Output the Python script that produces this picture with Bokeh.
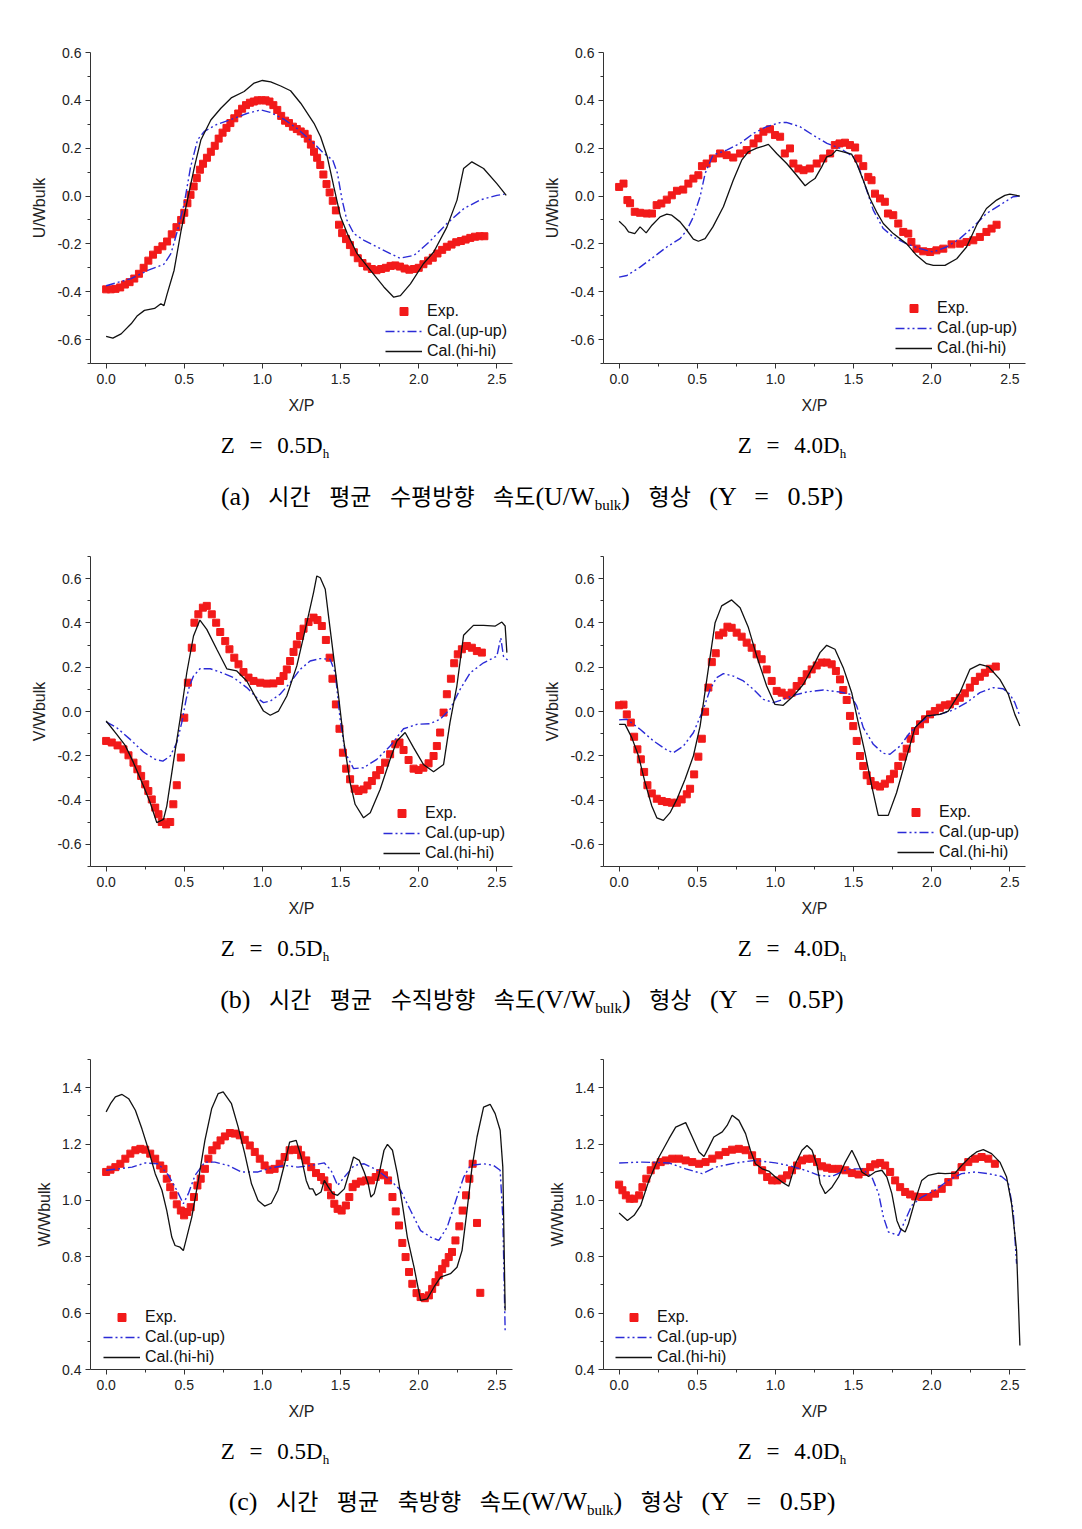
from bokeh.plotting import figure
from bokeh.models import Range1d, FixedTicker, PrintfTickFormatter, Div
from bokeh.layouts import column, row
from bokeh.embed import file_html
from bokeh.resources import INLINE

# ---------------- axis ticks ----------------
x_ticks = [0.0, 0.5, 1.0, 1.5, 2.0, 2.5]
x_minor = [0.25, 0.75, 1.25, 1.75, 2.25]
uv_ticks = [-0.6, -0.4, -0.2, 0.0, 0.2, 0.4, 0.6]
uv_minor = [-0.7, -0.5, -0.3, -0.1, 0.1, 0.3, 0.5, 0.7]
w_ticks = [0.4, 0.6, 0.8, 1.0, 1.2, 1.4]
w_minor = [0.5, 0.7, 0.9, 1.1, 1.3, 1.5]

# ---------------- (a) left : U/Wbulk, Z = 0.5Dh ----------------
a1_exp_x = [0.00, 0.03, 0.06, 0.09, 0.12, 0.15, 0.18, 0.21, 0.24, 0.27, 0.30, 0.33, 0.36, 0.39, 0.42, 0.45,
            0.48, 0.50, 0.52, 0.54, 0.56, 0.58, 0.60, 0.62, 0.645, 0.67, 0.695, 0.72, 0.745, 0.77, 0.795, 0.82,
            0.845, 0.87, 0.895, 0.92, 0.945, 0.97, 0.995, 1.02, 1.045, 1.07, 1.095, 1.12, 1.145, 1.17, 1.195,
            1.22, 1.245, 1.27, 1.29, 1.31, 1.33, 1.35, 1.37, 1.39, 1.41, 1.43, 1.45, 1.47, 1.49, 1.51, 1.535,
            1.56, 1.585, 1.61, 1.64, 1.67, 1.70, 1.73, 1.76, 1.79, 1.82, 1.85, 1.88, 1.91, 1.94, 1.97, 2.00,
            2.03, 2.06, 2.09, 2.12, 2.15, 2.18, 2.21, 2.24, 2.27, 2.30, 2.33, 2.36, 2.39, 2.42]
a1_exp_y = [-0.390, -0.390, -0.388, -0.382, -0.370, -0.360, -0.345, -0.325, -0.300, -0.270, -0.245, -0.225,
            -0.210, -0.190, -0.160, -0.130, -0.100, -0.070, -0.030, 0.005, 0.040, 0.075, 0.110, 0.135, 0.160,
            0.185, 0.210, 0.240, 0.265, 0.285, 0.305, 0.325, 0.345, 0.365, 0.380, 0.390, 0.395, 0.400, 0.400,
            0.400, 0.395, 0.380, 0.360, 0.335, 0.315, 0.305, 0.290, 0.280, 0.270, 0.260, 0.240, 0.215, 0.185,
            0.160, 0.130, 0.090, 0.050, 0.015, -0.020, -0.060, -0.120, -0.155, -0.180, -0.205, -0.235, -0.260,
            -0.280, -0.295, -0.305, -0.310, -0.305, -0.300, -0.292, -0.290, -0.295, -0.303, -0.308, -0.305,
            -0.300, -0.285, -0.270, -0.258, -0.240, -0.225, -0.212, -0.203, -0.193, -0.188, -0.182, -0.175,
            -0.170, -0.168, -0.168]
a1_up_x = [0.0, 0.16, 0.27, 0.37, 0.415, 0.457, 0.5, 0.54, 0.585, 0.628, 0.71, 0.8, 0.9, 0.99, 1.05, 1.14,
           1.22, 1.33, 1.39, 1.45, 1.48, 1.51, 1.54, 1.585, 1.65, 1.755, 1.88, 1.97, 2.07, 2.18, 2.29, 2.39,
           2.5, 2.55]
a1_up_y = [-0.375, -0.345, -0.31, -0.285, -0.24, -0.143, -0.03, 0.12, 0.235, 0.27, 0.3, 0.32, 0.345, 0.36,
           0.35, 0.32, 0.283, 0.22, 0.18, 0.15, 0.095, -0.017, -0.1, -0.157, -0.185, -0.22, -0.26, -0.248,
           -0.19, -0.115, -0.052, -0.017, 0.003, 0.008]
a1_hi_x = [0.0, 0.043, 0.096, 0.16, 0.2, 0.245, 0.31, 0.35, 0.37, 0.39, 0.435, 0.48, 0.52, 0.565, 0.606,
           0.67, 0.734, 0.8, 0.883, 0.947, 1.0, 1.053, 1.117, 1.18, 1.245, 1.33, 1.372, 1.415, 1.457, 1.5,
           1.543, 1.606, 1.69, 1.777, 1.84, 1.883, 1.947, 2.03, 2.096, 2.18, 2.245, 2.287, 2.34, 2.415, 2.5,
           2.56]
a1_hi_y = [-0.587, -0.594, -0.576, -0.534, -0.5, -0.478, -0.47, -0.45, -0.458, -0.41, -0.31, -0.143, -0.017,
           0.122, 0.234, 0.318, 0.367, 0.41, 0.437, 0.472, 0.483, 0.477, 0.46, 0.44, 0.388, 0.304, 0.248,
           0.164, 0.038, -0.087, -0.157, -0.241, -0.31, -0.38, -0.423, -0.416, -0.367, -0.283, -0.234, -0.13,
           -0.017, 0.115, 0.143, 0.115, 0.052, 0.003]

# ---------------- (a) right : U/Wbulk, Z = 4.0Dh ----------------
a2_exp_x = [0.0, 0.028, 0.053, 0.07, 0.1, 0.134, 0.177, 0.21, 0.24, 0.27, 0.305, 0.337, 0.37, 0.41, 0.443,
            0.475, 0.507, 0.53, 0.56, 0.6, 0.646, 0.688, 0.73, 0.774, 0.816, 0.86, 0.89, 0.923, 0.965, 0.997,
            1.03, 1.06, 1.093, 1.115, 1.147, 1.18, 1.22, 1.264, 1.306, 1.35, 1.38, 1.41, 1.445, 1.477, 1.51,
            1.53, 1.562, 1.594, 1.615, 1.637, 1.669, 1.7, 1.72, 1.754, 1.786, 1.818, 1.85, 1.87, 1.903, 1.946,
            1.99, 2.03, 2.074, 2.127, 2.18, 2.223, 2.266, 2.308, 2.35, 2.383, 2.415]
a2_exp_y = [0.038, 0.052, -0.017, -0.03, -0.066, -0.07, -0.073, -0.073, -0.038, -0.031, -0.015, 0.003, 0.022,
            0.027, 0.052, 0.073, 0.087, 0.125, 0.136, 0.157, 0.178, 0.171, 0.161, 0.178, 0.192, 0.22, 0.241,
            0.269, 0.279, 0.255, 0.248, 0.178, 0.199, 0.136, 0.115, 0.108, 0.115, 0.136, 0.157, 0.178, 0.213,
            0.22, 0.223, 0.213, 0.203, 0.157, 0.125, 0.08, 0.066, 0.01, -0.01, -0.024, -0.073, -0.08, -0.115,
            -0.15, -0.157, -0.192, -0.22, -0.231, -0.234, -0.227, -0.22, -0.202, -0.199, -0.192, -0.185,
            -0.171, -0.15, -0.136, -0.12]
a2_up_x = [0.0, 0.05, 0.134, 0.22, 0.305, 0.39, 0.433, 0.475, 0.518, 0.55, 0.6, 0.688, 0.774, 0.86, 0.944,
           1.03, 1.07, 1.157, 1.24, 1.33, 1.413, 1.5, 1.54, 1.584, 1.626, 1.69, 1.754, 1.84, 1.925, 2.01,
           2.095, 2.18, 2.266, 2.35, 2.436, 2.52, 2.56]
a2_up_y = [-0.339, -0.332, -0.297, -0.255, -0.213, -0.178, -0.143, -0.087, -0.003, 0.094, 0.171, 0.192, 0.22,
           0.262, 0.29, 0.307, 0.308, 0.29, 0.255, 0.22, 0.2, 0.164, 0.108, 0.024, -0.059, -0.136, -0.171,
           -0.2, -0.22, -0.234, -0.213, -0.178, -0.129, -0.073, -0.038, -0.003, 0.0]
a2_hi_x = [0.0, 0.038, 0.06, 0.1, 0.134, 0.173, 0.21, 0.262, 0.305, 0.337, 0.39, 0.433, 0.475, 0.507, 0.55,
           0.6, 0.667, 0.73, 0.784, 0.827, 0.88, 0.923, 0.955, 1.008, 1.072, 1.136, 1.19, 1.22, 1.253, 1.296,
           1.328, 1.36, 1.39, 1.434, 1.487, 1.52, 1.562, 1.605, 1.647, 1.69, 1.754, 1.84, 1.903, 1.967, 2.01,
           2.085, 2.16, 2.223, 2.287, 2.35, 2.415, 2.468, 2.5, 2.564]
a2_hi_y = [-0.105, -0.129, -0.15, -0.157, -0.129, -0.154, -0.122, -0.087, -0.076, -0.08, -0.108, -0.143,
           -0.18, -0.189, -0.178, -0.129, -0.045, 0.066, 0.15, 0.185, 0.2, 0.209, 0.216, 0.178, 0.136, 0.087,
           0.043, 0.059, 0.073, 0.122, 0.164, 0.171, 0.192, 0.185, 0.175, 0.136, 0.066, -0.01, -0.066, -0.115,
           -0.157, -0.2, -0.248, -0.283, -0.29, -0.29, -0.262, -0.213, -0.122, -0.052, -0.017, 0.003, 0.008,
           0.0]

# ---------------- (b) left : V/Wbulk, Z = 0.5Dh ----------------
b1_exp_x = [0.0, 0.036, 0.073, 0.111, 0.143, 0.175, 0.2, 0.224, 0.25, 0.27, 0.292, 0.314, 0.335, 0.356,
            0.384, 0.41, 0.43, 0.452, 0.478, 0.5, 0.523, 0.548, 0.565, 0.59, 0.619, 0.644, 0.676, 0.704, 0.73,
            0.762, 0.789, 0.82, 0.847, 0.879, 0.911, 0.943, 0.986, 1.028, 1.07, 1.113, 1.135, 1.156, 1.177,
            1.199, 1.22, 1.241, 1.263, 1.295, 1.327, 1.352, 1.38, 1.406, 1.43, 1.448, 1.47, 1.493, 1.515,
            1.536, 1.561, 1.59, 1.615, 1.647, 1.672, 1.7, 1.728, 1.753, 1.785, 1.817, 1.85, 1.877, 1.903,
            1.935, 1.967, 1.999, 2.03, 2.063, 2.095, 2.116, 2.137, 2.159, 2.18, 2.206, 2.227, 2.25, 2.276,
            2.308, 2.34, 2.372, 2.404]
b1_exp_y = [-0.133, -0.14, -0.153, -0.171, -0.198, -0.231, -0.261, -0.291, -0.329, -0.359, -0.397, -0.434,
            -0.464, -0.499, -0.51, -0.499, -0.419, -0.333, -0.208, -0.028, 0.13, 0.288, 0.401, 0.439, 0.469,
            0.477, 0.439, 0.401, 0.359, 0.318, 0.281, 0.243, 0.213, 0.178, 0.153, 0.138, 0.13, 0.126, 0.127,
            0.138, 0.16, 0.19, 0.228, 0.269, 0.303, 0.341, 0.374, 0.404, 0.424, 0.413, 0.386, 0.323, 0.243,
            0.148, 0.032, -0.078, -0.186, -0.258, -0.306, -0.349, -0.359, -0.352, -0.334, -0.314, -0.288,
            -0.264, -0.231, -0.193, -0.148, -0.14, -0.174, -0.219, -0.258, -0.264, -0.254, -0.234, -0.201,
            -0.156, -0.095, -0.005, 0.078, 0.148, 0.218, 0.258, 0.281, 0.296, 0.288, 0.273, 0.266]
b1_up_x = [0.0, 0.068, 0.154, 0.239, 0.314, 0.363, 0.41, 0.452, 0.484, 0.512, 0.533, 0.559, 0.6, 0.666, 0.73,
           0.815, 0.9, 0.964, 1.007, 1.05, 1.113, 1.177, 1.241, 1.305, 1.369, 1.433, 1.466, 1.497, 1.53,
           1.583, 1.647, 1.732, 1.817, 1.903, 1.988, 2.073, 2.137, 2.2, 2.265, 2.33, 2.415, 2.5, 2.525, 2.542,
           2.575]
b1_up_y = [-0.047, -0.073, -0.126, -0.183, -0.216, -0.224, -0.201, -0.141, -0.05, 0.055, 0.115, 0.16, 0.193,
           0.193, 0.178, 0.153, 0.108, 0.062, 0.04, 0.047, 0.078, 0.13, 0.19, 0.228, 0.239, 0.236, 0.175,
           -0.035, -0.186, -0.258, -0.254, -0.216, -0.156, -0.078, -0.058, -0.055, -0.035, 0.01, 0.1, 0.175,
           0.22, 0.25, 0.333, 0.25, 0.228]
b1_hi_x = [0.0, 0.068, 0.122, 0.175, 0.239, 0.282, 0.324, 0.367, 0.388, 0.43, 0.473, 0.516, 0.559, 0.6,
           0.644, 0.708, 0.772, 0.836, 0.9, 0.964, 1.007, 1.05, 1.103, 1.156, 1.22, 1.284, 1.327, 1.348,
           1.37, 1.402, 1.423, 1.455, 1.487, 1.519, 1.561, 1.593, 1.647, 1.69, 1.753, 1.817, 1.86, 1.913,
           1.967, 2.03, 2.095, 2.159, 2.2, 2.244, 2.287, 2.35, 2.415, 2.49, 2.532, 2.553, 2.564]
b1_hi_y = [-0.043, -0.103, -0.153, -0.231, -0.336, -0.412, -0.502, -0.487, -0.427, -0.231, -0.035, 0.175,
           0.341, 0.413, 0.371, 0.281, 0.193, 0.183, 0.138, 0.055, 0.002, -0.017, 0.002, 0.07, 0.206, 0.401,
           0.537, 0.612, 0.604, 0.552, 0.431, 0.25, 0.07, -0.126, -0.321, -0.419, -0.48, -0.457, -0.352,
           -0.216, -0.133, -0.095, -0.163, -0.239, -0.272, -0.239, -0.05, 0.115, 0.344, 0.389, 0.389, 0.386,
           0.404, 0.386, 0.266]

# ---------------- (b) right : V/Wbulk, Z = 4.0Dh ----------------
b2_exp_x = [0.0, 0.028, 0.049, 0.075, 0.096, 0.117, 0.139, 0.16, 0.181, 0.209, 0.241, 0.273, 0.305, 0.337,
            0.369, 0.4, 0.433, 0.454, 0.48, 0.507, 0.529, 0.55, 0.571, 0.593, 0.618, 0.639, 0.667, 0.693, 0.72,
            0.752, 0.784, 0.816, 0.848, 0.88, 0.912, 0.944, 0.976, 1.008, 1.04, 1.072, 1.104, 1.136, 1.168,
            1.2, 1.232, 1.264, 1.296, 1.328, 1.36, 1.387, 1.413, 1.434, 1.456, 1.477, 1.498, 1.52, 1.541,
            1.562, 1.584, 1.609, 1.637, 1.669, 1.7, 1.733, 1.758, 1.786, 1.814, 1.84, 1.865, 1.893, 1.925,
            1.957, 1.989, 2.02, 2.052, 2.084, 2.116, 2.148, 2.18, 2.212, 2.244, 2.276, 2.308, 2.34, 2.372, 2.41]
b2_exp_y = [0.028, 0.031, -0.013, -0.05, -0.114, -0.171, -0.216, -0.273, -0.333, -0.37, -0.394, -0.404,
            -0.409, -0.412, -0.412, -0.397, -0.374, -0.349, -0.284, -0.204, -0.123, -0.001, 0.108, 0.223, 0.263,
            0.344, 0.356, 0.383, 0.378, 0.356, 0.338, 0.311, 0.288, 0.258, 0.236, 0.19, 0.138, 0.093, 0.085,
            0.073, 0.085, 0.115, 0.138, 0.168, 0.19, 0.208, 0.221, 0.221, 0.213, 0.183, 0.145, 0.097, 0.052,
            -0.02, -0.066, -0.133, -0.201, -0.246, -0.288, -0.314, -0.333, -0.339, -0.326, -0.306, -0.281,
            -0.246, -0.204, -0.168, -0.123, -0.088, -0.058, -0.035, -0.013, 0.002, 0.017, 0.028, 0.032, 0.047,
            0.062, 0.082, 0.108, 0.138, 0.157, 0.175, 0.193, 0.203]
b2_up_x = [0.0, 0.049, 0.134, 0.22, 0.305, 0.347, 0.411, 0.475, 0.539, 0.582, 0.624, 0.667, 0.731, 0.795,
           0.859, 0.923, 0.987, 1.05, 1.115, 1.2, 1.306, 1.413, 1.477, 1.52, 1.562, 1.626, 1.69, 1.733, 1.797,
           1.86, 1.925, 1.989, 2.052, 2.138, 2.223, 2.308, 2.393, 2.457, 2.5, 2.532, 2.56]
b2_up_y = [-0.038, -0.035, -0.08, -0.133, -0.174, -0.186, -0.156, -0.096, 0.01, 0.1, 0.153, 0.171, 0.16,
           0.138, 0.1, 0.055, 0.04, 0.055, 0.073, 0.088, 0.097, 0.088, 0.078, 0.025, -0.073, -0.148, -0.189,
           -0.193, -0.156, -0.096, -0.05, -0.02, -0.013, 0.007, 0.04, 0.085, 0.108, 0.103, 0.078, 0.04, -0.013]
b2_hi_x = [0.0, 0.038, 0.081, 0.124, 0.166, 0.209, 0.241, 0.283, 0.326, 0.369, 0.422, 0.475, 0.518, 0.561,
           0.614, 0.656, 0.72, 0.774, 0.827, 0.88, 0.944, 0.997, 1.05, 1.115, 1.179, 1.243, 1.285, 1.328,
           1.381, 1.434, 1.488, 1.53, 1.573, 1.616, 1.658, 1.722, 1.775, 1.829, 1.893, 1.967, 2.052, 2.106,
           2.18, 2.244, 2.308, 2.362, 2.436, 2.49, 2.532, 2.564]
b2_hi_y = [-0.058, -0.058, -0.118, -0.201, -0.321, -0.427, -0.48, -0.492, -0.457, -0.397, -0.306, -0.201,
           -0.066, 0.145, 0.401, 0.477, 0.504, 0.469, 0.379, 0.251, 0.115, 0.032, 0.028, 0.07, 0.123, 0.206,
           0.266, 0.299, 0.281, 0.198, 0.085, -0.05, -0.186, -0.336, -0.469, -0.469, -0.367, -0.231, -0.073,
           -0.02, -0.013, 0.002, 0.085, 0.19, 0.213, 0.203, 0.145, 0.078, -0.013, -0.065]

# ---------------- (c) left : W/Wbulk, Z = 0.5Dh ----------------
c1_exp_x = [0.0, 0.028, 0.059, 0.091, 0.123, 0.155, 0.187, 0.219, 0.25, 0.282, 0.314, 0.346, 0.367, 0.388,
            0.41, 0.431, 0.452, 0.478, 0.499, 0.52, 0.541, 0.562, 0.584, 0.605, 0.632, 0.654, 0.679, 0.707,
            0.732, 0.76, 0.792, 0.823, 0.855, 0.887, 0.919, 0.951, 0.983, 1.014, 1.046, 1.078, 1.11, 1.142,
            1.174, 1.205, 1.227, 1.248, 1.28, 1.312, 1.343, 1.375, 1.396, 1.418, 1.439, 1.46, 1.481, 1.507,
            1.534, 1.556, 1.577, 1.598, 1.63, 1.662, 1.694, 1.725, 1.753, 1.778, 1.804, 1.832, 1.853, 1.874,
            1.895, 1.916, 1.938, 1.959, 1.986, 2.012, 2.039, 2.065, 2.086, 2.107, 2.128, 2.15, 2.171, 2.192,
            2.213, 2.235, 2.26, 2.281, 2.303, 2.324, 2.345, 2.373, 2.394]
c1_exp_y = [1.101, 1.109, 1.118, 1.13, 1.148, 1.166, 1.178, 1.183, 1.18, 1.166, 1.148, 1.124, 1.112, 1.077,
            1.047, 1.018, 0.986, 0.964, 0.947, 0.959, 0.976, 1.012, 1.053, 1.077, 1.112, 1.148, 1.178, 1.195,
            1.213, 1.227, 1.239, 1.237, 1.231, 1.215, 1.195, 1.172, 1.148, 1.124, 1.109, 1.112, 1.13, 1.154,
            1.178, 1.18, 1.18, 1.16, 1.142, 1.118, 1.097, 1.083, 1.071, 1.047, 1.018, 0.988, 0.97, 0.964,
            0.982, 1.012, 1.047, 1.059, 1.067, 1.071, 1.071, 1.083, 1.097, 1.089, 1.071, 1.012, 0.961, 0.911,
            0.849, 0.799, 0.746, 0.704, 0.671, 0.657, 0.653, 0.663, 0.686, 0.71, 0.734, 0.757, 0.777, 0.799,
            0.817, 0.858, 0.908, 0.964, 1.018, 1.077, 1.13, 0.92, 0.672]
c1_up_x = [0.0, 0.081, 0.166, 0.25, 0.335, 0.399, 0.452, 0.494, 0.526, 0.569, 0.632, 0.696, 0.781, 0.866,
           0.972, 1.057, 1.142, 1.227, 1.312, 1.396, 1.439, 1.481, 1.524, 1.587, 1.651, 1.736, 1.82, 1.884,
           1.948, 2.012, 2.076, 2.128, 2.182, 2.245, 2.288, 2.33, 2.415, 2.479, 2.521, 2.538, 2.553]
c1_up_y = [1.107, 1.112, 1.118, 1.133, 1.13, 1.089, 1.036, 0.988, 1.024, 1.089, 1.136, 1.136, 1.124, 1.101,
           1.101, 1.116, 1.124, 1.118, 1.124, 1.133, 1.107, 1.053, 1.083, 1.124, 1.13, 1.107, 1.071, 1.036,
           0.964, 0.893, 0.87, 0.858, 0.905, 1.012, 1.083, 1.124, 1.13, 1.124, 1.107, 0.941, 0.538]
c1_hi_x = [0.0, 0.028, 0.059, 0.102, 0.144, 0.187, 0.229, 0.272, 0.314, 0.357, 0.388, 0.42, 0.441, 0.473,
           0.494, 0.516, 0.548, 0.59, 0.632, 0.675, 0.717, 0.749, 0.802, 0.845, 0.887, 0.93, 0.972, 1.014,
           1.057, 1.099, 1.142, 1.174, 1.216, 1.248, 1.28, 1.301, 1.322, 1.343, 1.375, 1.396, 1.422, 1.45,
           1.481, 1.524, 1.556, 1.583, 1.62, 1.651, 1.677, 1.694, 1.715, 1.747, 1.778, 1.8, 1.832, 1.863,
           1.895, 1.927, 1.97, 2.012, 2.055, 2.097, 2.14, 2.203, 2.245, 2.277, 2.309, 2.341, 2.373, 2.415,
           2.457, 2.489, 2.521, 2.538, 2.553]
c1_hi_y = [1.314, 1.343, 1.367, 1.376, 1.361, 1.32, 1.254, 1.178, 1.095, 1.036, 0.964, 0.87, 0.84, 0.834,
           0.822, 0.87, 0.941, 1.071, 1.213, 1.325, 1.379, 1.385, 1.343, 1.26, 1.166, 1.059, 1.0, 0.98, 0.99,
           1.036, 1.13, 1.207, 1.213, 1.154, 1.071, 1.041, 1.041, 1.018, 1.03, 1.071, 1.047, 1.024, 1.018,
           1.041, 1.101, 1.154, 1.142, 1.101, 1.059, 1.012, 1.024, 1.095, 1.178, 1.199, 1.178, 1.095, 0.988,
           0.87, 0.763, 0.645, 0.651, 0.692, 0.728, 0.74, 0.763, 0.822, 0.964, 1.118, 1.225, 1.331, 1.341,
           1.308, 1.249, 1.118, 0.609]

# ---------------- (c) right : W/Wbulk, Z = 4.0Dh ----------------
c2_exp_x = [0.0, 0.021, 0.043, 0.068, 0.096, 0.128, 0.149, 0.174, 0.202, 0.234, 0.266, 0.298, 0.34, 0.383,
            0.426, 0.468, 0.511, 0.553, 0.596, 0.638, 0.681, 0.723, 0.766, 0.809, 0.851, 0.883, 0.915, 0.947,
            0.979, 1.011, 1.043, 1.074, 1.106, 1.138, 1.17, 1.202, 1.234, 1.266, 1.298, 1.33, 1.362, 1.404,
            1.447, 1.489, 1.532, 1.574, 1.606, 1.638, 1.67, 1.702, 1.734, 1.766, 1.798, 1.83, 1.862, 1.894,
            1.936, 1.979, 2.021, 2.064, 2.106, 2.149, 2.191, 2.234, 2.277, 2.319, 2.362, 2.404]
c2_exp_y = [1.056, 1.036, 1.018, 1.006, 1.006, 1.018, 1.047, 1.077, 1.107, 1.124, 1.136, 1.142, 1.148, 1.148,
            1.142, 1.136, 1.13, 1.136, 1.148, 1.16, 1.172, 1.18, 1.183, 1.178, 1.16, 1.136, 1.107, 1.083,
            1.071, 1.071, 1.077, 1.089, 1.107, 1.124, 1.142, 1.148, 1.148, 1.136, 1.121, 1.116, 1.112, 1.112,
            1.107, 1.097, 1.092, 1.101, 1.118, 1.128, 1.133, 1.124, 1.101, 1.071, 1.047, 1.03, 1.021, 1.014,
            1.012, 1.012, 1.024, 1.041, 1.065, 1.089, 1.118, 1.136, 1.148, 1.154, 1.148, 1.13]
c2_up_x = [0.0, 0.149, 0.319, 0.426, 0.532, 0.617, 0.745, 0.872, 1.0, 1.085, 1.191, 1.277, 1.362, 1.468,
           1.553, 1.617, 1.66, 1.691, 1.723, 1.787, 1.83, 1.872, 1.936, 2.021, 2.106, 2.191, 2.277, 2.362,
           2.447, 2.489, 2.521, 2.543]
c2_up_y = [1.133, 1.136, 1.133, 1.112, 1.095, 1.118, 1.133, 1.142, 1.133, 1.124, 1.107, 1.089, 1.085, 1.112,
           1.112, 1.083, 1.024, 0.941, 0.888, 0.876, 0.929, 0.982, 1.012, 1.036, 1.071, 1.095, 1.101, 1.095,
           1.085, 1.065, 0.964, 0.775]
c2_hi_x = [0.0, 0.053, 0.096, 0.138, 0.191, 0.255, 0.319, 0.362, 0.426, 0.468, 0.511, 0.543, 0.574, 0.606,
           0.66, 0.691, 0.723, 0.766, 0.809, 0.84, 0.872, 0.915, 0.957, 1.0, 1.043, 1.085, 1.128, 1.17, 1.202,
           1.234, 1.266, 1.287, 1.319, 1.362, 1.404, 1.447, 1.489, 1.521, 1.553, 1.596, 1.638, 1.681, 1.713,
           1.745, 1.777, 1.798, 1.83, 1.851, 1.894, 1.936, 1.979, 2.043, 2.085, 2.149, 2.191, 2.245, 2.287,
           2.33, 2.383, 2.436, 2.479, 2.511, 2.543, 2.564]
c2_hi_y = [0.955, 0.929, 0.947, 0.982, 1.071, 1.154, 1.219, 1.26, 1.276, 1.225, 1.172, 1.156, 1.189, 1.225,
           1.243, 1.266, 1.302, 1.284, 1.237, 1.178, 1.13, 1.112, 1.104, 1.083, 1.065, 1.05, 1.13, 1.178,
           1.195, 1.178, 1.124, 1.059, 1.024, 1.047, 1.083, 1.136, 1.178, 1.142, 1.101, 1.085, 1.101, 1.107,
           1.083, 1.024, 0.929, 0.9, 0.888, 0.917, 1.0, 1.071, 1.089, 1.097, 1.095, 1.097, 1.124, 1.154,
           1.172, 1.18, 1.166, 1.136, 1.083, 0.988, 0.822, 0.485]

RED = "#f21a1a"
BLUE = "#2b2bd6"
INK = "#222222"
SANS = "Liberation Sans"


def panel(ylabel, ylo, yhi, yt, ym, ex, ey, ux, uy, hx, hy, leg_xy, left, right, top, height):
    p = figure(width=left + 422 + right, height=height, x_range=Range1d(-0.1, 2.6),
               y_range=Range1d(ylo, yhi), output_backend="svg", toolbar_location=None,
               min_border_left=left, min_border_right=right, min_border_top=top,
               min_border_bottom=57)
    p.outline_line_color = None
    p.xgrid.visible = False
    p.ygrid.visible = False
    p.scatter(ex, ey, marker="square", size=7, fill_color=RED, line_color=RED,
              legend_label="Exp.")
    p.line(ux, uy, line_color=BLUE, line_width=1.4, line_dash="9 3 2 3 2 3",
           legend_label="Cal.(up-up)")
    p.line(hx, hy, line_color="#111111", line_width=1.3, legend_label="Cal.(hi-hi)")

    for ax in (p.xaxis[0], p.yaxis[0]):
        ax.axis_line_color = "#333333"
        ax.major_tick_line_color = "#333333"
        ax.minor_tick_line_color = "#333333"
        ax.major_tick_out = 5
        ax.major_tick_in = 0
        ax.minor_tick_out = 3
        ax.minor_tick_in = 0
        ax.major_label_text_font = SANS
        ax.major_label_text_font_size = "14px"
        ax.major_label_text_color = INK
        ax.axis_label_text_font = SANS
        ax.axis_label_text_font_size = "16px"
        ax.axis_label_text_font_style = "normal"
        ax.axis_label_text_color = INK
        ax.formatter = PrintfTickFormatter(format="%.1f")
    p.xaxis[0].ticker = FixedTicker(ticks=x_ticks, minor_ticks=x_minor)
    p.xaxis[0].axis_label = "X/P"
    p.xaxis[0].major_label_standoff = 5
    p.xaxis[0].axis_label_standoff = 10
    p.yaxis[0].ticker = FixedTicker(ticks=yt, minor_ticks=ym)
    p.yaxis[0].axis_label = ylabel
    p.yaxis[0].major_label_standoff = 4
    p.yaxis[0].axis_label_standoff = 6

    leg = p.legend[0]
    leg.location = leg_xy
    leg.padding = 0
    leg.margin = 0
    leg.spacing = 0
    leg.glyph_width = 37
    leg.glyph_height = 20
    leg.label_height = 20
    leg.label_standoff = 5
    leg.label_text_font = SANS
    leg.label_text_font_size = "16px"
    leg.label_text_color = "#111111"
    leg.background_fill_alpha = 0
    leg.border_line_alpha = 0
    return p


SERIF = "'Liberation Serif','Noto Sans CJK KR',serif"
HANGUL = "'Noto Sans CJK KR',sans-serif"


def sub(s, size):
    return f'<span style="font-size:{size}px;position:relative;top:5px;">{s}</span>'


def k(s):
    return f'<span style="font-family:{HANGUL};font-size:23px;">{s}</span>'


def caption(z1, z2, cap, h, cap_top):
    html = (
        f'<div style="position:relative;width:1060px;height:{h}px;font-family:{SERIF};color:#000;">'
        f'<div style="position:absolute;left:125px;top:11px;width:300px;text-align:center;'
        f'font-size:23px;word-spacing:9px;line-height:30px;white-space:nowrap;">{z1}</div>'
        f'<div style="position:absolute;left:642px;top:11px;width:300px;text-align:center;'
        f'font-size:23px;word-spacing:9px;line-height:30px;white-space:nowrap;">{z2}</div>'
        f'<div style="position:absolute;left:8px;top:{cap_top}px;width:1048px;text-align:center;'
        f'font-size:26px;word-spacing:12px;line-height:30px;white-space:nowrap;">{cap}</div>'
        f'</div>'
    )
    return Div(text=html, width=1060, height=h, margin=0)


z_a = "Z = 0.5D" + sub("h", 13)
z_b = "Z = 4.0D" + sub("h", 13)
cap_a = ("(a) " + k("시간") + " " + k("평균") + " " + k("수평방향") + " " + k("속도") + "(U/W"
         + sub("bulk", 15) + ") " + k("형상") + " (Y = 0.5P)")
cap_b = ("(b) " + k("시간") + " " + k("평균") + " " + k("수직방향") + " " + k("속도") + "(V/W"
         + sub("bulk", 15) + ") " + k("형상") + " (Y = 0.5P)")
cap_c = ("(c) " + k("시간") + " " + k("평균") + " " + k("축방향") + " " + k("속도") + "(W/W"
         + sub("bulk", 15) + ") " + k("형상") + " (Y = 0.5P)")

pa1 = panel("U/Wbulk", -0.7, 0.6, uv_ticks, uv_minor, a1_exp_x, a1_exp_y, a1_up_x, a1_up_y,
            a1_hi_x, a1_hi_y, (295, 2), 90, 16, 52, 420)
pa2 = panel("U/Wbulk", -0.7, 0.6, uv_ticks, uv_minor, a2_exp_x, a2_exp_y, a2_up_x, a2_up_y,
            a2_hi_x, a2_hi_y, (292, 5), 75, 16, 52, 420)
pb1 = panel("V/Wbulk", -0.7, 0.7, uv_ticks, uv_minor, b1_exp_x, b1_exp_y, b1_up_x, b1_up_y,
            b1_hi_x, b1_hi_y, (293, 3), 90, 16, 30, 397)
pb2 = panel("V/Wbulk", -0.7, 0.7, uv_ticks, uv_minor, b2_exp_x, b2_exp_y, b2_up_x, b2_up_y,
            b2_hi_x, b2_hi_y, (294, 4), 75, 16, 30, 397)
pc1 = panel("W/Wbulk", 0.4, 1.5, w_ticks, w_minor, c1_exp_x, c1_exp_y, c1_up_x, c1_up_y,
            c1_hi_x, c1_hi_y, (13, 2), 90, 16, 30, 397)
pc2 = panel("W/Wbulk", 0.4, 1.5, w_ticks, w_minor, c2_exp_x, c2_exp_y, c2_up_x, c2_up_y,
            c2_hi_x, c2_hi_y, (12, 2), 75, 16, 30, 397)

layout = column(
    row(pa1, pa2),
    caption(z_a, z_b, cap_a, 106, 60),
    row(pb1, pb2),
    caption(z_a, z_b, cap_b, 106, 60),
    row(pc1, pc2),
    caption(z_a, z_b, cap_c, 92, 59),
)

open("out.html", "w").write(file_html(layout, INLINE))
